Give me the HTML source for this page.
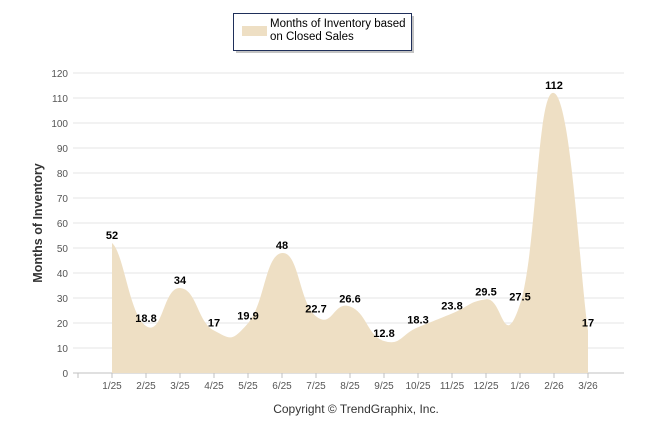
<!DOCTYPE html>
<html><head><meta charset="utf-8"><style>
body{margin:0;background:#fff;font-family:"Liberation Sans",Arial,sans-serif}
svg{display:block}
</style></head><body>
<svg width="646" height="434" id="c">
<g>
<rect x="236" y="16" width="178" height="37" fill="#888" opacity="0.5"/>
<rect x="233.5" y="13.5" width="178" height="37" fill="#fff" stroke="#1f2f5a" stroke-width="1"/>
<rect x="242" y="26" width="25" height="10" fill="#eedfc4"/>
<text x="270" y="27" font-size="11.5" fill="#000">Months of Inventory based</text>
<text x="270" y="40" font-size="11.5" fill="#000">on Closed Sales</text>
</g>
<text transform="translate(42,223) rotate(-90)" text-anchor="middle" font-size="12.5" font-weight="bold" fill="#333">Months of Inventory</text>
<text x="356" y="413" text-anchor="middle" font-size="12" fill="#333">Copyright © TrendGraphix, Inc.</text>
<g id="grid"></g><g id="area"></g><g id="labels"></g>
</svg>
<script>
const categories=["1/25","2/25","3/25","4/25","5/25","6/25","7/25","8/25","9/25","10/25","11/25","12/25","1/26","2/26","3/26"];
const values=[52,18.8,34,17,19.9,48,22.7,26.6,12.8,18.3,23.8,29.5,27.5,112,17];
const labels=["52","18.8","34","17","19.9","48","22.7","26.6","12.8","18.3","23.8","29.5","27.5","112","17"];
const yTicks=[0,10,20,30,40,50,60,70,80,90,100,110,120];
const NS="http://www.w3.org/2000/svg";
const x=i=>112+i*34, y=v=>373-v*300/120;
function mk(t,a,p){const e=document.createElementNS(NS,t);for(const k in a)e.setAttribute(k,a[k]);p.appendChild(e);return e;}
const g=document.getElementById('grid');
yTicks.forEach(t=>{
 const l=mk('line',{x1:73,x2:624,y1:y(t),y2:y(t),stroke:t===0?'#c0c0c0':'#e6e6e6','stroke-width':1},g);
 
 
 const tx=mk('text',{x:68,y:y(t)+4,'text-anchor':'end','font-size':10,fill:'#555'},g);tx.textContent=t;
 
 
});
for(let i=0;i<=categories.length;i++){mk('line',{x1:x(i)-34,x2:x(i)-34,y1:373,y2:378,stroke:'#c0c0c0'},g);}
categories.forEach((c,i)=>{const t=mk('text',{x:x(i),y:389,'text-anchor':'middle','font-size':10,fill:'#555'},g);t.textContent=c;
 
 });
const P=values.map((v,i)=>[x(i),y(v)]);
let d=`M${P[0][0]},${y(0)}L${P[0][0]},${P[0][1]}`;
const s=0.33;
for(let i=0;i<P.length-1;i++){
 const p0=P[i-1]||P[i],p1=P[i],p2=P[i+1],p3=P[i+2]||P[i+1];
 const c1=[p1[0]+(p2[0]-p0[0])*s/2*1.5,p1[1]+(p2[1]-p0[1])*s/2*1.5*(i===0?0.5:1)];
 const c2=[p2[0]-(p3[0]-p1[0])*s/2*1.5,p2[1]-(p3[1]-p1[1])*s/2*1.5];
 if(i===0){c1[0]=p1[0]+12;c1[1]=p1[1]+10;}
 d+=`C${c1[0]},${c1[1]} ${c2[0]},${c2[1]} ${p2[0]},${p2[1]}`;
}
d+=`L${P[P.length-1][0]},${y(0)}Z`;
const a=mk('path',{d:d,fill:'#eedfc4'},document.getElementById('area'));


const L=document.getElementById('labels');
values.forEach((v,i)=>{const t=mk('text',{x:x(i),y:y(v)-4,'text-anchor':'middle','font-size':11,'font-weight':'bold',fill:'#000'},L);t.textContent=labels[i];
 
 });
</script>
</body></html>
